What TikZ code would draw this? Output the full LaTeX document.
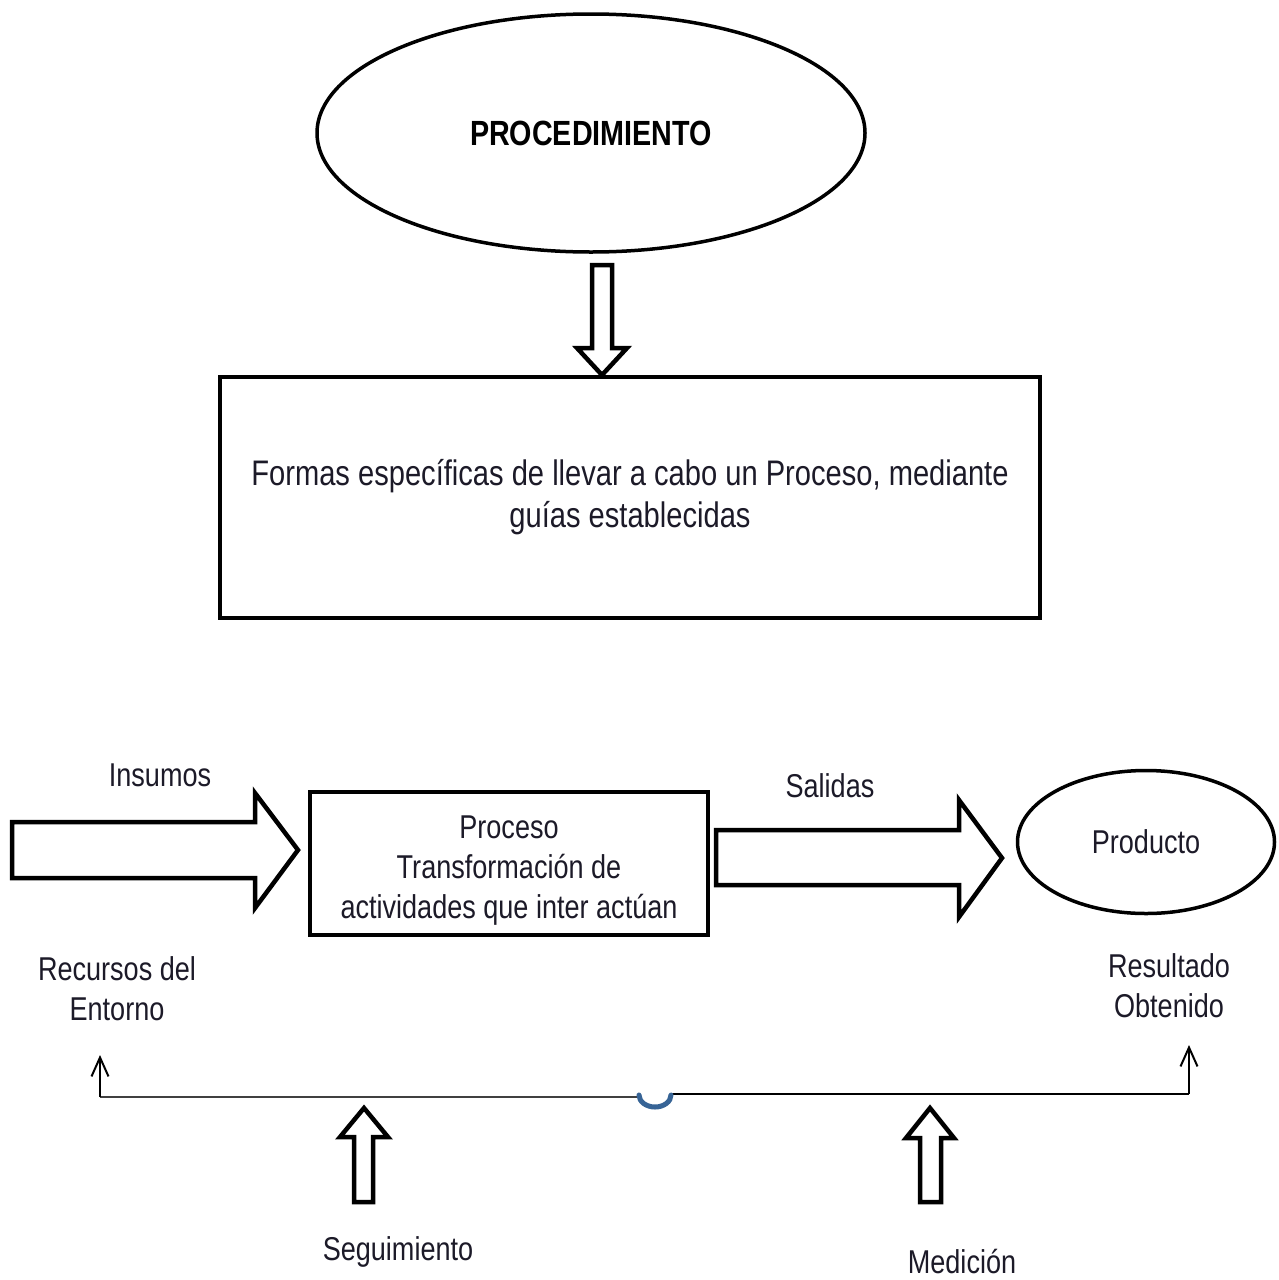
\documentclass[tikz,border=0pt]{standalone}
\usepackage{fontspec}
\setmainfont{Liberation Sans}[FakeStretch=0.82]
\usetikzlibrary{shapes.geometric,arrows.meta}
\definecolor{txt}{RGB}{28,26,40}
\definecolor{arcblue}{RGB}{55,100,150}
\begin{document}
\begin{tikzpicture}[x=1pt,y=-1pt,
  lbl/.style={text=txt,font=\fontsize{33}{40}\selectfont,align=center,inner sep=0pt},
  boxed/.style={draw,line width=4pt,text=txt,font=\fontsize{33}{40}\selectfont,align=center},
  blockarrow/.style={draw,line width=4.5pt,fill=white,line join=miter},
  fb/.style={line width=2.2pt},
  tipup/.style={-{Straight Barb[length=19pt,width=17pt,line width=2pt]}}]
\useasboundingbox (0,0) rectangle (1278,1280);
\fill[white] (0,0) rectangle (1278,1280);

% top ellipse
\node[ellipse,draw,line width=3.5pt,minimum width=548pt,minimum height=238pt,inner sep=0pt,
      font=\bfseries\fontsize{35}{40}\selectfont,text=black] (proc) at (591,133) {PROCEDIMIENTO};

% description box
\node[boxed,minimum width=820pt,minimum height=241pt,font=\fontsize{35.5}{42}\selectfont] (formas) at (630,497.5)
  {Formas específicas de llevar a cabo un Proceso, mediante\\guías establecidas};

% down block arrow
\draw[blockarrow] (592,265) -- (612,265) -- (612,348) -- (627,348) -- (602,375)
  -- (577,348) -- (592,348) -- cycle;

% process row
\node[boxed,minimum width=398pt,minimum height=143pt] (proceso) at (509,863.5) {};
\node[lbl] at (509,870.5) {Proceso\\Transformación de\\actividades que inter actúan};
\node[ellipse,draw,line width=3.5pt,minimum width=257pt,minimum height=143pt,inner sep=0pt,
      text=txt,font=\fontsize{33}{40}\selectfont] (producto) at (1146,842) {Producto};

\draw[blockarrow] (12,822) -- (255,822) -- (255,793) -- (298,850) -- (255,908)
  -- (255,878) -- (12,878) -- cycle;
\draw[blockarrow] (716,830) -- (959,830) -- (959,800) -- (1002,858) -- (959,917)
  -- (959,885) -- (716,885) -- cycle;

% labels
\node[lbl] (insumos) at (160,775) {Insumos};
\node[lbl] (salidas) at (830,786) {Salidas};
\node[lbl] (recursos) at (117,989) {Recursos del\\Entorno};
\node[lbl] (resultado) at (1169,986) {Resultado\\Obtenido};
\node[lbl] (seguimiento) at (398,1252) {Seguimiento};
\node[lbl] (medicion) at (962,1261) {Medición};

% feedback line
\coordinate (lb) at (100,1097);
\coordinate (lt) at (100,1055);
\coordinate (a1) at (639,1097);
\coordinate (a2) at (671,1094);
\coordinate (rb) at (1189,1094);
\coordinate (rt) at (1189,1045);
\draw[fb,black!75,line width=2.6pt] (lb) -- (a1);
\draw[fb] (a2) -- (rb);
\draw[fb,tipup] (lb) -- (lt);
\draw[fb,tipup] (rb) -- (rt);
\draw[arcblue,line width=5pt,line cap=round] (639,1095) arc[start angle=180,end angle=0,x radius=16,y radius=12];

% up block arrows
\draw[blockarrow] (354,1202) -- (373,1202) -- (373,1137) -- (388,1137) -- (364,1108)
  -- (340,1137) -- (354,1137) -- cycle;
\draw[blockarrow] (920,1202) -- (941,1202) -- (941,1138) -- (954,1138) -- (930,1108)
  -- (906,1138) -- (920,1138) -- cycle;
\end{tikzpicture}
\end{document}
